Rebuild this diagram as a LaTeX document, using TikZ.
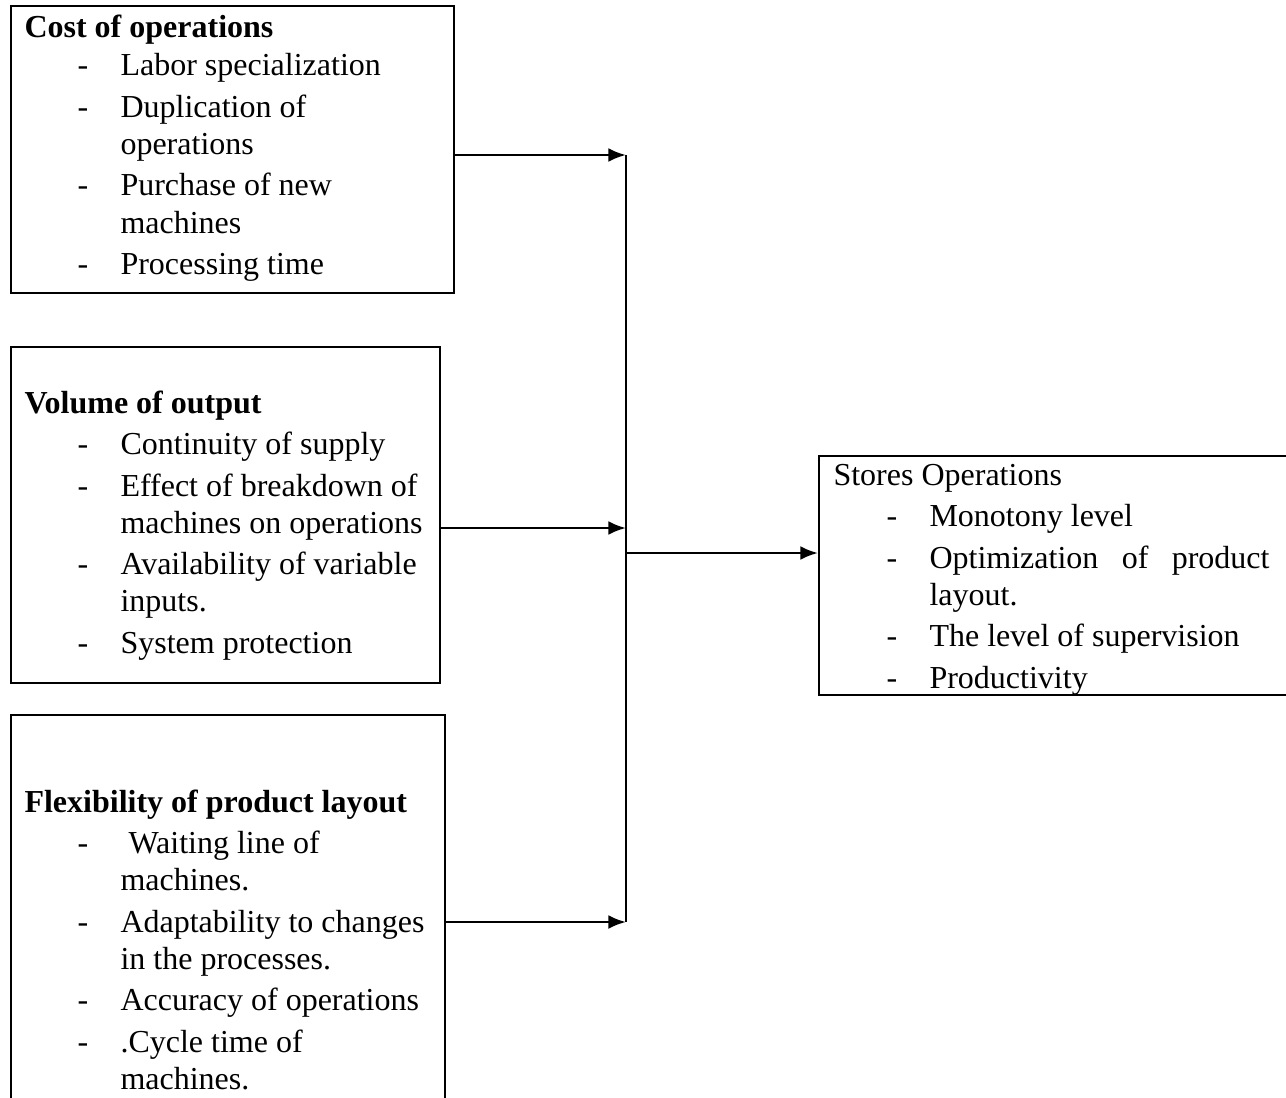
\documentclass[tikz,border=0pt]{standalone}
\usepackage{fontspec}
\setmainfont{Liberation Serif}
\usetikzlibrary{arrows.meta}

\tikzset{
    factor box/.style={draw=black, line width=0.8pt, rectangle, inner sep=0pt, anchor=north west},
    factor list/.style={inner sep=0pt, anchor=base west, font=\fontsize{12}{13.9}\selectfont},
    feed/.style={-{Latex[length=6.6pt,width=5.2pt]}, line width=0.95pt, black},
    bus/.style={line width=0.45pt, black},
}
% list with a bold (or plain) heading and hanging dash items
\newenvironment{dashlist}{\begin{tabular}[t]{@{\hspace{19.9pt}}p{16.1pt}@{}l@{}}}{\end{tabular}}
\newcommand{\gap}{\\[1.7pt]}

\begin{document}
\begin{tikzpicture}[x=0.375pt, y=-0.375pt]

    \clip (0,0) rectangle (1286,1097);

    % factor boxes on the left
    \node[factor box, minimum width=166.1pt, minimum height=107.6pt] (cost) at (10,5) {};
    \node[factor box, minimum width=160.9pt, minimum height=126pt] (volume) at (10,346) {};
    \node[factor box, minimum width=162.8pt, minimum height=152.3pt] (flex) at (10,714) {};

    % result box on the right
    \node[factor box, minimum width=180.8pt, minimum height=89.6pt] (stores) at (818,455) {};

    \node[factor list] (costtext) at (24,37) {\begin{dashlist}
        \multicolumn{2}{@{}l@{}}{\textbf{Cost of operations}}\\[0.6pt]
        - & Labor specialization\gap
        - & Duplication of\\
          & operations\gap
        - & Purchase of new\\
          & machines\gap
        - & Processing time
    \end{dashlist}};

    \node[factor list] (volumetext) at (24,413) {\begin{dashlist}
        \multicolumn{2}{@{}l@{}}{\textbf{Volume of output}}\gap
        - & Continuity of supply\gap
        - & Effect of breakdown of\\
          & machines on operations\gap
        - & Availability of variable\\
          & inputs.\gap
        - & System protection
    \end{dashlist}};

    \node[factor list] (flextext) at (24,812) {\begin{dashlist}
        \multicolumn{2}{@{}l@{}}{\textbf{Flexibility of product layout}}\gap
        - & \ Waiting line of\\
          & machines.\gap
        - & Adaptability to changes\\
          & in the processes.\gap
        - & Accuracy of operations\gap
        - & .Cycle time of\\
          & machines.
    \end{dashlist}};

    \node[factor list] (storestext) at (833,485) {\begin{dashlist}
        \multicolumn{2}{@{}l@{}}{Stores Operations}\gap
        - & Monotony level\gap
        - & \makebox[127.5pt][s]{Optimization of product}\\
          & layout.\gap
        - & The level of supervision\gap
        - & Productivity
    \end{dashlist}};

    % collecting line
    \coordinate (j1) at (626,155);
    \coordinate (j2) at (626,528);
    \coordinate (j3) at (626,922);
    \coordinate (j4) at (626,553);
    \draw[bus] (j1) -- (j3);

    \draw[feed] (cost.east |- j1) -- (j1);
    \draw[feed] (volume.east |- j2) -- (j2);
    \draw[feed] (flex.east |- j3) -- (j3);
    \draw[feed] (j4) -- (stores.west |- j4);

\end{tikzpicture}
\end{document}
